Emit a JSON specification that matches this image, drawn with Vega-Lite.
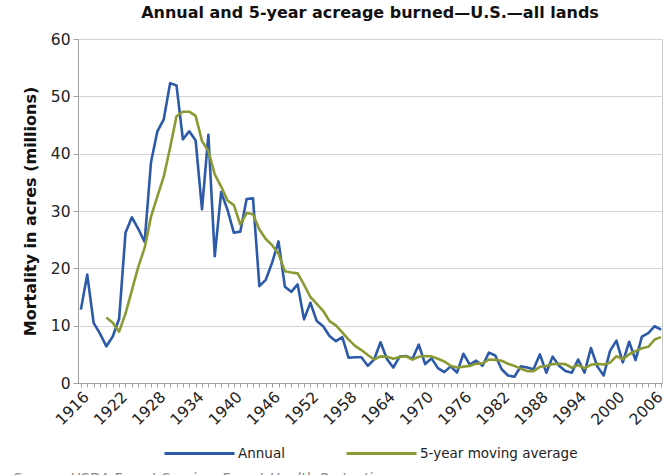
{
  "$schema": "https://vega.github.io/schema/vega-lite/v6.json",
  "width": 584,
  "height": 344,
  "autosize": {"type": "none"},
  "padding": {"left": 78, "top": 39, "right": 6, "bottom": 92},
  "background": "white",
  "title": {
    "text": "Annual and 5-year acreage burned\u2014U.S.\u2014all lands",
    "font": "DejaVu Sans",
    "fontSize": 16,
    "fontWeight": "bold",
    "color": "#111111",
    "anchor": "middle",
    "offset": 11
  },
  "config": {
    "view": {"stroke": "#c8c8c8", "strokeWidth": 1},
    "font": "DejaVu Sans"
  },
  "data": {
    "values": [
      {"year": 1916, "Annual": 12.8},
      {"year": 1917, "Annual": 18.9},
      {"year": 1918, "Annual": 10.5},
      {"year": 1919, "Annual": 8.6},
      {"year": 1920, "Annual": 6.4, "5-year moving average": 11.44},
      {"year": 1921, "Annual": 8.1, "5-year moving average": 10.5},
      {"year": 1922, "Annual": 11.2, "5-year moving average": 8.96},
      {"year": 1923, "Annual": 26.2, "5-year moving average": 12.1},
      {"year": 1924, "Annual": 28.9, "5-year moving average": 16.16},
      {"year": 1925, "Annual": 26.9, "5-year moving average": 20.26},
      {"year": 1926, "Annual": 24.6, "5-year moving average": 23.56},
      {"year": 1927, "Annual": 38.5, "5-year moving average": 29.02},
      {"year": 1928, "Annual": 43.9, "5-year moving average": 32.56},
      {"year": 1929, "Annual": 46.0, "5-year moving average": 35.98},
      {"year": 1930, "Annual": 52.3, "5-year moving average": 41.06},
      {"year": 1931, "Annual": 51.9, "5-year moving average": 46.52},
      {"year": 1932, "Annual": 42.5, "5-year moving average": 47.32},
      {"year": 1933, "Annual": 43.9, "5-year moving average": 47.32},
      {"year": 1934, "Annual": 42.3, "5-year moving average": 46.58},
      {"year": 1935, "Annual": 30.3, "5-year moving average": 42.18},
      {"year": 1936, "Annual": 43.3, "5-year moving average": 40.46},
      {"year": 1937, "Annual": 22.1, "5-year moving average": 36.38},
      {"year": 1938, "Annual": 33.3, "5-year moving average": 34.26},
      {"year": 1939, "Annual": 30.2, "5-year moving average": 31.84},
      {"year": 1940, "Annual": 26.2, "5-year moving average": 31.02},
      {"year": 1941, "Annual": 26.4, "5-year moving average": 27.64},
      {"year": 1942, "Annual": 32.1, "5-year moving average": 29.64},
      {"year": 1943, "Annual": 32.2, "5-year moving average": 29.42},
      {"year": 1944, "Annual": 16.9, "5-year moving average": 26.76},
      {"year": 1945, "Annual": 18.0, "5-year moving average": 25.12},
      {"year": 1946, "Annual": 21.0, "5-year moving average": 24.04},
      {"year": 1947, "Annual": 24.7, "5-year moving average": 22.56},
      {"year": 1948, "Annual": 16.8, "5-year moving average": 19.48},
      {"year": 1949, "Annual": 15.9, "5-year moving average": 19.28},
      {"year": 1950, "Annual": 17.2, "5-year moving average": 19.12},
      {"year": 1951, "Annual": 11.1, "5-year moving average": 17.14},
      {"year": 1952, "Annual": 14.0, "5-year moving average": 15.0},
      {"year": 1953, "Annual": 10.8, "5-year moving average": 13.8},
      {"year": 1954, "Annual": 9.9, "5-year moving average": 12.6},
      {"year": 1955, "Annual": 8.2, "5-year moving average": 10.8},
      {"year": 1956, "Annual": 7.3, "5-year moving average": 10.04},
      {"year": 1957, "Annual": 8.0, "5-year moving average": 8.84},
      {"year": 1958, "Annual": 4.4, "5-year moving average": 7.56},
      {"year": 1959, "Annual": 4.5, "5-year moving average": 6.48},
      {"year": 1960, "Annual": 4.5, "5-year moving average": 5.74},
      {"year": 1961, "Annual": 3.0, "5-year moving average": 4.88},
      {"year": 1962, "Annual": 4.1, "5-year moving average": 4.1},
      {"year": 1963, "Annual": 7.1, "5-year moving average": 4.64},
      {"year": 1964, "Annual": 4.2, "5-year moving average": 4.58},
      {"year": 1965, "Annual": 2.7, "5-year moving average": 4.22},
      {"year": 1966, "Annual": 4.6, "5-year moving average": 4.54},
      {"year": 1967, "Annual": 4.7, "5-year moving average": 4.66},
      {"year": 1968, "Annual": 4.2, "5-year moving average": 4.08},
      {"year": 1969, "Annual": 6.7, "5-year moving average": 4.58},
      {"year": 1970, "Annual": 3.3, "5-year moving average": 4.7},
      {"year": 1971, "Annual": 4.3, "5-year moving average": 4.64},
      {"year": 1972, "Annual": 2.6, "5-year moving average": 4.22},
      {"year": 1973, "Annual": 1.9, "5-year moving average": 3.76},
      {"year": 1974, "Annual": 2.9, "5-year moving average": 3.0},
      {"year": 1975, "Annual": 1.8, "5-year moving average": 2.7},
      {"year": 1976, "Annual": 5.1, "5-year moving average": 2.86},
      {"year": 1977, "Annual": 3.2, "5-year moving average": 2.98},
      {"year": 1978, "Annual": 3.9, "5-year moving average": 3.38},
      {"year": 1979, "Annual": 3.0, "5-year moving average": 3.4},
      {"year": 1980, "Annual": 5.3, "5-year moving average": 4.1},
      {"year": 1981, "Annual": 4.8, "5-year moving average": 4.04},
      {"year": 1982, "Annual": 2.4, "5-year moving average": 3.88},
      {"year": 1983, "Annual": 1.3, "5-year moving average": 3.36},
      {"year": 1984, "Annual": 1.1, "5-year moving average": 2.98},
      {"year": 1985, "Annual": 2.9, "5-year moving average": 2.5},
      {"year": 1986, "Annual": 2.7, "5-year moving average": 2.08},
      {"year": 1987, "Annual": 2.4, "5-year moving average": 2.08},
      {"year": 1988, "Annual": 5.0, "5-year moving average": 2.82},
      {"year": 1989, "Annual": 1.8, "5-year moving average": 2.96},
      {"year": 1990, "Annual": 4.6, "5-year moving average": 3.3},
      {"year": 1991, "Annual": 3.0, "5-year moving average": 3.36},
      {"year": 1992, "Annual": 2.1, "5-year moving average": 3.3},
      {"year": 1993, "Annual": 1.8, "5-year moving average": 2.66},
      {"year": 1994, "Annual": 4.1, "5-year moving average": 3.12},
      {"year": 1995, "Annual": 1.8, "5-year moving average": 2.56},
      {"year": 1996, "Annual": 6.1, "5-year moving average": 3.18},
      {"year": 1997, "Annual": 2.9, "5-year moving average": 3.34},
      {"year": 1998, "Annual": 1.3, "5-year moving average": 3.24},
      {"year": 1999, "Annual": 5.6, "5-year moving average": 3.54},
      {"year": 2000, "Annual": 7.4, "5-year moving average": 4.66},
      {"year": 2001, "Annual": 3.6, "5-year moving average": 4.16},
      {"year": 2002, "Annual": 7.2, "5-year moving average": 5.02},
      {"year": 2003, "Annual": 4.0, "5-year moving average": 5.56},
      {"year": 2004, "Annual": 8.1, "5-year moving average": 6.06},
      {"year": 2005, "Annual": 8.7, "5-year moving average": 6.32},
      {"year": 2006, "Annual": 9.9, "5-year moving average": 7.58},
      {"year": 2007, "Annual": 9.3, "5-year moving average": 8.0}
    ]
  },
  "transform": [
    {"fold": ["Annual", "5-year moving average"], "as": ["series", "acres"]},
    {"filter": "isValid(datum.acres)"}
  ],
  "mark": {"type": "line", "strokeWidth": 2.6, "strokeJoin": "round"},
  "encoding": {
    "x": {
      "field": "year",
      "type": "quantitative",
      "scale": {"domain": [1915.55, 2007.15], "nice": false, "zero": false},
      "axis": {
        "title": "Source: USDA Forest Service, Forest Health Protection",
        "titleFont": "DejaVu Sans",
        "titleFontSize": 14,
        "titleFontWeight": "normal",
        "titleColor": "#8a8a8a",
        "titleAnchor": "start",
        "titleAlign": "left",
        "titleBaseline": "top",
        "titleX": -65,
        "titleY": 88,
        "values": [1916,1917,1918,1919,1920,1921,1922,1923,1924,1925,1926,1927,1928,1929,1930,1931,1932,1933,1934,1935,1936,1937,1938,1939,1940,1941,1942,1943,1944,1945,1946,1947,1948,1949,1950,1951,1952,1953,1954,1955,1956,1957,1958,1959,1960,1961,1962,1963,1964,1965,1966,1967,1968,1969,1970,1971,1972,1973,1974,1975,1976,1977,1978,1979,1980,1981,1982,1983,1984,1985,1986,1987,1988,1989,1990,1991,1992,1993,1994,1995,1996,1997,1998,1999,2000,2001,2002,2003,2004,2005,2006,2007],
        "format": "d",
        "labelExpr": "(datum.value - 1916) % 6 === 0 ? datum.label : ''",
        "labelOverlap": false,
        "labelAngle": -45,
        "labelFont": "DejaVu Sans",
        "labelFontSize": 15.5,
        "labelColor": "#222222",
        "labelPadding": 2,
        "grid": false,
        "domainColor": "#a0a0a0",
        "tickColor": "#a0a0a0",
        "tickSize": 4
      }
    },
    "y": {
      "field": "acres",
      "type": "quantitative",
      "scale": {"domain": [0, 60], "nice": false},
      "axis": {
        "title": "Mortality in acres (millions)",
        "titleFont": "DejaVu Sans",
        "titleFontSize": 16,
        "titleFontWeight": "bold",
        "titleColor": "#111111",
        "titlePadding": 12,
        "values": [0, 10, 20, 30, 40, 50, 60],
        "labelFont": "DejaVu Sans",
        "labelFontSize": 15.5,
        "labelColor": "#222222",
        "labelPadding": 3,
        "tickSize": 5,
        "tickColor": "#a0a0a0",
        "domainColor": "#a0a0a0",
        "gridColor": "#d4d4d4",
        "gridWidth": 1
      }
    },
    "color": {
      "field": "series",
      "type": "nominal",
      "scale": {"domain": ["Annual", "5-year moving average"], "range": ["#2c5aa8", "#8c9a36"]},
      "legend": {
        "title": null,
        "orient": "none",
        "legendX": 85,
        "legendY": 378,
        "direction": "horizontal",
        "symbolType": "stroke",
        "symbolSize": 4900,
        "symbolStrokeWidth": 3,
        "labelFont": "DejaVu Sans",
        "labelFontSize": 13.5,
        "labelColor": "#222222",
        "labelOffset": 2,
        "labelLimit": 400,
        "columnPadding": 55
      }
    }
  }
}
